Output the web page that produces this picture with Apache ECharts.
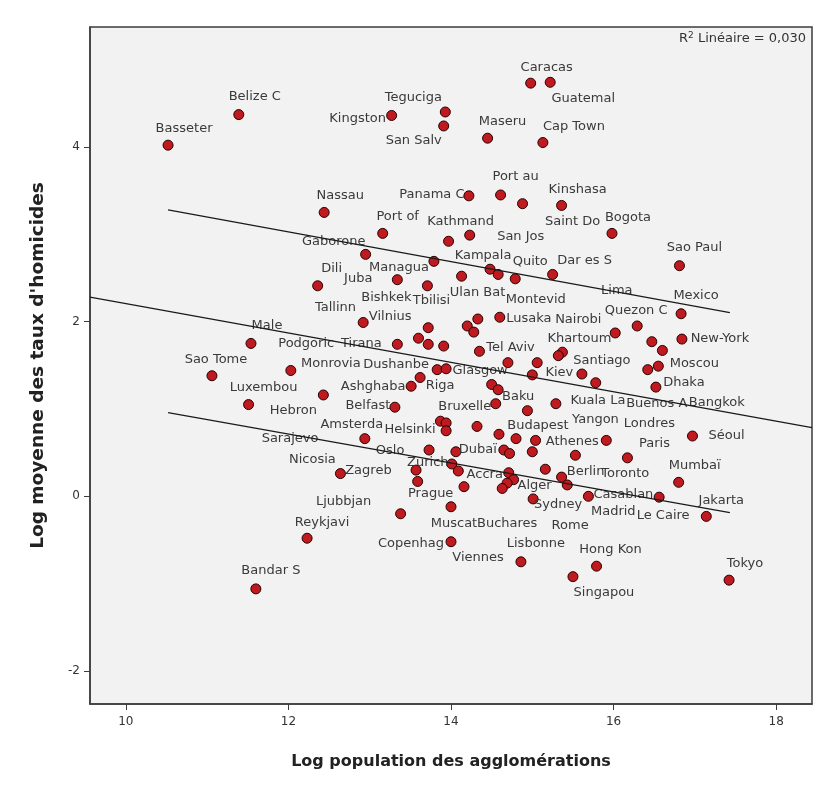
<!DOCTYPE html>
<html><head><meta charset="utf-8">
<script src="https://cdn.jsdelivr.net/npm/echarts@6/dist/echarts.min.js"></script>
<style>html,body{margin:0;padding:0;background:#fff}#c{width:813px;height:795px}</style>
</head><body><div id="c"></div><script>
// ---- data ----
const cities = ["Basseter","Belize C","Kingston","Teguciga","San Salv","Caracas","Guatemal","Maseru","Cap Town","Nassau",
"Panama C","Port au","Saint Do","Kinshasa","Bogota","Port of","San Jos","Kathmand","Gaborone","Dili",
"Managua","Kampala","","Quito","Ulan Bat","Dar es S","Bishkek","Tbilisi","Vilnius","Montevid",
"Lusaka","","","Juba","Tallinn","Tirana","Podgoric","","Tel Aviv","Khartoum",
"","Quezon C","Nairobi","Lima","","New-York","Sao Paul","Mexico","Sao Tome","Male",
"Monrovia","Luxembou","Hebron","Ashghaba","Riga","Dushanbe","Glasgow","","","Kiev",
"","Baku","Bruxelle","Yangon","Kuala La","Belfast","Nicosia","","Helsinki","",
"Budapest","","","Amsterda","Oslo","Dubaï","","","","Londres",
"Athenes","Paris","Séoul","Zurich","","Sarajevo","Prague","Viennes","Accra","Alger",
"Rome","Buchares","Toronto","Berlin","Madrid","Sydney","Zagreb","Muscat","Ljubbjan","Copenhag",
"Lisbonne","Singapou","Hong Kon","Tokyo","Bandar S","Reykjavi","Mumbaï","Casablan","Le Caire","Jakarta",
"Santiago","Buenos A","Moscou","Bangkok","Dhaka"];
const logPop = [10.52,11.39,13.27,13.93,13.91,14.98,15.22,14.45,15.13,12.44,
14.22,14.61,14.88,15.36,15.98,13.16,14.23,13.97,12.95,12.36,
13.79,14.48,14.58,14.79,14.13,15.25,13.34,13.71,12.92,14.33,
14.60,14.20,14.28,13.72,13.60,13.34,13.72,13.91,14.35,15.37,
15.32,16.29,16.02,16.47,16.60,16.84,16.81,16.83,11.06,11.54,
12.03,11.51,12.43,13.51,13.62,13.83,13.94,14.70,15.06,15.00,
14.50,14.58,14.55,14.94,15.29,13.31,13.87,13.94,13.94,14.32,
14.59,14.80,15.04,12.94,13.73,14.06,14.65,14.72,15.00,15.53,
15.91,16.17,16.97,14.01,14.09,13.57,13.59,14.16,14.71,14.77,
14.69,14.63,15.16,15.36,15.43,15.01,12.64,14.00,13.38,14.00,
14.86,15.50,15.79,17.42,11.60,12.23,16.80,15.69,16.56,17.14,
15.61,15.78,16.55,16.42,16.52];
const logHom = [4.02,4.37,4.36,4.40,4.24,4.73,4.74,4.10,4.05,3.25,
3.44,3.45,3.35,3.33,3.01,3.01,2.99,2.92,2.77,2.41,
2.69,2.60,2.54,2.49,2.52,2.54,2.48,2.41,1.99,2.03,
2.05,1.95,1.88,1.93,1.81,1.74,1.74,1.72,1.66,1.65,
1.61,1.95,1.87,1.77,1.67,1.80,2.64,2.09,1.38,1.75,
1.44,1.05,1.16,1.26,1.36,1.45,1.46,1.53,1.53,1.39,
1.28,1.22,1.06,0.98,1.06,1.02,0.86,0.84,0.75,0.80,
0.71,0.66,0.64,0.66,0.53,0.51,0.53,0.49,0.51,0.47,
0.64,0.44,0.69,0.37,0.29,0.30,0.17,0.11,0.27,0.19,
0.15,0.09,0.31,0.22,0.13,-0.03,0.26,-0.12,-0.20,-0.52,
-0.75,-0.92,-0.80,-0.96,-1.06,-0.48,0.16,0.00,-0.01,-0.23,
1.40,1.30,1.49,1.45,1.25];
// fit line and the two parallel bands
const fitX = [9.56, 18.44], fitY = [2.280, 0.786];
const upperX = [10.52, 17.43], upperY = [3.280, 2.102];
const lowerX = [10.52, 17.43], lowerY = [0.958, -0.187];
const xTicks = [10,12,14,16,18];
const yTicks = [-2,0,2,4];
const r2Text = "Linéaire = 0,030";
// ---- label placement (style, pixels: label centre relative to point centre) ----
const labelDx = [16,16,-34,-32,-30,16,33,15,31,16,
-37,15,50,16,16,15,51,12,-32,14,
-35,-7,0,15,16,32,-11,4,27,58,
29,0,0,-70,-83,-36,-122,0,31,17,
0,-1,-37,-35,0,38,15,15,4,16,
40,15,-30,-38,20,-41,34,0,0,27,
0,20,-31,68,42,-27,-128,0,-36,0,
39,0,0,-13,-39,22,0,0,0,74,
-34,27,34,-24,0,-126,13,14,-24,21,
63,5,80,24,46,25,28,3,-57,-40,
15,31,14,16,15,15,16,35,4,15,
20,61,36,69,28];
const labelDy = [-17,-18,3,-14,15,-16,16,-17,-16,-17,
-1,-18,18,-16,-16,-17,1,-20,-13,-17,
6,-14,0,-17,16,-14,18,15,-6,-19,
1,0,0,-49,-31,-1,-1,0,-4,-14,
0,-15,-13,-51,0,0,-18,-18,-16,-18,
-7,-17,16,0,8,-5,2,0,0,-2,
0,7,3,9,-3,-2,38,0,-1,0,
-9,0,0,-14,1,-2,0,0,0,-32,
1,-14,0,-1,0,-31,12,71,2,6,
42,35,4,-5,27,6,-3,17,-12,2,
-18,16,-17,-17,-18,-16,-17,-2,18,-16,
-13,21,-3,33,-4];

const FONT = 'DejaVu Sans';
const pts = cities.map((n,i)=>({
  name:n, value:[logPop[i],logHom[i]],
  label:{offset:[labelDx[i],labelDy[i]]}
}));
const lineSeries = (xs,ys)=>({
  type:'line', data:xs.map((x,i)=>[x,ys[i]]), symbol:'none', silent:true, z:10,
  lineStyle:{color:'#1a1a1a',width:1.2}
});
const chart = echarts.init(document.getElementById('c'), null, {renderer:'canvas'});
chart.setOption({
  animation:false,
  backgroundColor:'#ffffff',
  grid:{left:90,top:27,right:1,bottom:91,show:true,backgroundColor:'#f2f2f2',borderColor:'#3c3c3c',borderWidth:1.5},
  xAxis:{type:'value',min:9.56,max:18.44,
    axisLine:{show:true,onZero:false,lineStyle:{color:'#3c3c3c',width:1.5}},
    splitLine:{show:false},
    axisTick:{show:true,customValues:xTicks,length:6,lineStyle:{color:'#3c3c3c'}},
    axisLabel:{customValues:xTicks,color:'#333',fontSize:12,margin:12,fontFamily:FONT},
    name:'Log population des agglomérations',nameLocation:'middle',nameGap:50,
    nameTextStyle:{fontWeight:'bold',fontSize:16,color:'#222',fontFamily:FONT}},
  yAxis:{type:'value',min:-2.378,max:5.373,
    axisLine:{show:true,onZero:false,lineStyle:{color:'#3c3c3c',width:1.5}},
    splitLine:{show:false},
    axisTick:{show:true,customValues:yTicks,length:6,lineStyle:{color:'#3c3c3c'}},
    axisLabel:{customValues:yTicks,color:'#333',fontSize:12,margin:10,fontFamily:FONT},
    name:"Log moyenne des taux d'homicides",nameLocation:'middle',nameGap:42,
    nameTextStyle:{fontWeight:'bold',fontSize:18.5,color:'#222',fontFamily:FONT}},
  graphic:[{type:'text',right:7,top:31,z:20,
    style:{text:'R{sup|2} '+r2Text,fill:'#333',font:'13px '+FONT,
      rich:{sup:{fontSize:9,fill:'#333',padding:[0,0,7,0],fontFamily:FONT}}}}],
  series:[
    {type:'scatter',data:pts,symbol:'circle',symbolSize:10,z:3,
     itemStyle:{color:'#be1a1f',borderColor:'#2a0000',borderWidth:1,opacity:1},
     label:{show:true,position:'inside',formatter:'{b}',color:'#3a3a3a',fontSize:13,fontFamily:FONT,textBorderWidth:0}},
    lineSeries(fitX,fitY),
    lineSeries(upperX,upperY),
    lineSeries(lowerX,lowerY)
  ]
});
</script></body></html>
